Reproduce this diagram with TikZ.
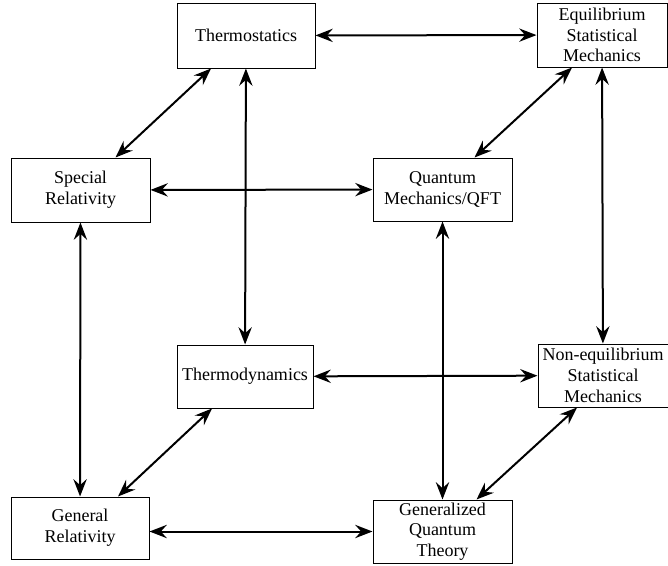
\documentclass[tikz,border=0pt]{standalone}
\usepackage{fontspec}
\setmainfont{Liberation Serif}
\usetikzlibrary{arrows.meta,calc}

\tikzset{every picture/.style={line width=0.75pt}}
\tikzset{
  topic/.style={draw, line width=0.75pt, align=center, inner sep=0.75pt,
    font=\fontsize{13.5}{15.5}\selectfont},
  link/.style={line width=1.5pt, {Stealth[length=13pt,width=10pt,inset=4.5pt]}-{Stealth[length=13pt,width=10pt,inset=4.5pt]}}
}

\begin{document}
\begin{tikzpicture}[x=0.75pt,y=0.75pt,yscale=-1,xscale=1]
\useasboundingbox (0,0) rectangle (668,565);

% Text Node
\node [topic, minimum width=138*0.75pt, minimum height=65*0.75pt] (thermostatics) at (246,35.5) {Thermostatics};
% Text Node
\node [topic, minimum width=130*0.75pt, minimum height=64*0.75pt] (equilibrium) at (602,35) {Equilibrium\\Statistical\\Mechanics};
% Text Node
\node [topic, minimum width=139*0.75pt, minimum height=64*0.75pt] (special) at (80.5,190) {Special\\Relativity};
% Text Node
\node [topic, minimum width=139*0.75pt, minimum height=63*0.75pt] (quantum) at (442.5,189.5) {Quantum\\Mechanics/QFT};
% Text Node
\node [topic, minimum width=136*0.75pt, minimum height=63*0.75pt] (thermodynamics) at (245,376.5) {Thermodynamics};
% Text Node
\node [topic, minimum width=130*0.75pt, minimum height=63*0.75pt] (noneq) at (603,375.5) {Non-equilibrium\\Statistical\\Mechanics};
% Text Node
\node [topic, minimum width=138*0.75pt, minimum height=62*0.75pt] (general) at (80,528) {General\\Relativity};
% Text Node
\node [topic, minimum width=139*0.75pt, minimum height=63*0.75pt] (generalized) at (442.5,531.5) {Generalized\\Quantum\\Theory};

%Straight Lines
\draw [link] (thermostatics) -- (equilibrium);
\draw [link] (special) -- (quantum);
\draw [link] (thermodynamics) -- (noneq);
\draw [link] (general.east |- generalized.west) -- (generalized.west);
%Straight Lines
\draw [link] (thermostatics) -- (thermodynamics);
\draw [link] (equilibrium) -- (noneq);
\draw [link] (special) -- (general);
\draw [link] (quantum) -- (generalized);
%Straight Lines
\draw [link] ($(thermostatics.south)+(-35,0)$) -- ($(special.north)+(35,0)$);
\draw [link] ($(equilibrium.south)+(-30,0)$) -- ($(quantum.north)+(32,0)$);
\draw [link] ($(thermodynamics.south)+(-33,0)$) -- ($(general.north)+(38,0)$);
\draw [link] ($(noneq.south)+(-26,0)$) -- ($(generalized.north)+(34,0)$);

\end{tikzpicture}
\end{document}
